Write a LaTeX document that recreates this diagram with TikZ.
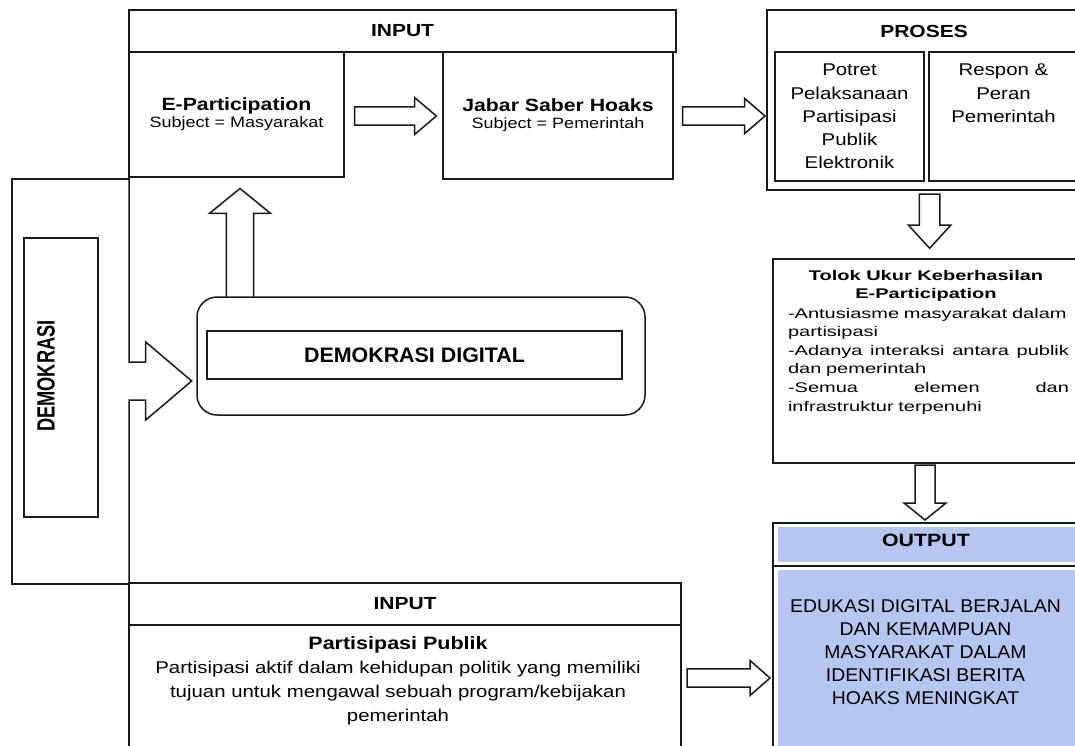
\documentclass[tikz,border=0pt]{standalone}
\usepackage{fontspec}
\setmainfont{Liberation Sans}[FakeStretch=1.2]
\newfontfamily\tolfont{Liberation Sans}[FakeStretch=1.43]
\newfontfamily\outfont{Liberation Sans}[FakeStretch=1.05]
\newfontfamily\ddfont{Liberation Sans}[FakeStretch=1.02]
\newfontfamily\demfont{Liberation Sans}[FakeStretch=0.73]
\usetikzlibrary{calc}
\definecolor{outblue}{RGB}{181,198,240}
\definecolor{ink}{RGB}{25,25,25}
% block arrows: start, end, shaft half width, head half width, head length
\newcommand\rblock[5]{\draw[blk] let \p1=#1, \p2=#2 in (\x1,\y1+#3) -- (\x2-#5,\y1+#3) -- (\x2-#5,\y1+#4) -- (\x2,\y1) -- (\x2-#5,\y1-#4) -- (\x2-#5,\y1-#3) -- (\x1,\y1-#3) -- cycle;}
\newcommand\dblock[5]{\draw[blk] let \p1=#1, \p2=#2 in (\x1-#3,\y1) -- (\x1-#3,\y2+#5) -- (\x1-#4,\y2+#5) -- (\x1,\y2) -- (\x1+#4,\y2+#5) -- (\x1+#3,\y2+#5) -- (\x1+#3,\y1) -- cycle;}
\newcommand\ublock[5]{\draw[blk] let \p1=#1, \p2=#2 in (\x1-#3,\y1) -- (\x1-#3,\y2-#5) -- (\x1-#4,\y2-#5) -- (\x1,\y2) -- (\x1+#4,\y2-#5) -- (\x1+#3,\y2-#5) -- (\x1+#3,\y1) -- cycle;}
\begin{document}
\begin{tikzpicture}[x=1pt,y=-1pt,
  box/.style={draw=ink,line width=1.5pt,inner sep=0pt,outer sep=0pt},
  blk/.style={draw=ink,line width=1.5pt,fill=white,line join=miter},
  lbl/.style={inner sep=0pt,outer sep=0pt,text=black},
  title/.style={font=\fontsize{17.5}{21}\selectfont\bfseries}]
\useasboundingbox (0,0) rectangle (1075,745);
\fill[white] (0,0) rectangle (1075,745);

% ---- top INPUT group
\node[box,title,minimum width=547,minimum height=42] (in1) at (402.5,31) {INPUT};
\node[box,minimum width=215,minimum height=125,align=center,font=\fontsize{15}{17}\selectfont] (ep) at (236.5,114.5)
  {{\fontsize{17.7}{17}\selectfont\bfseries E-Participation}\\Subject = Masyarakat};
\node[box,minimum width=230,minimum height=127,align=center,font=\fontsize{15}{17}\selectfont] (jb) at (558,115.5)
  {{\fontsize{17.7}{17}\selectfont\bfseries Jabar Saber Hoaks}\\Subject = Pemerintah};

% ---- PROSES
\node[box,minimum width=317,minimum height=180] (pr) at (925.5,100) {};
\node[lbl,title] (prt) at (924,31) {PROSES};
\node[box,minimum width=149,minimum height=129] (pt) at (849.5,116.5) {};
\node[box,minimum width=149,minimum height=129] (rp) at (1003.5,116.5) {};
\node[lbl,anchor=north,align=center,font=\fontsize{17}{23.3}\selectfont] (ptt) at (849.5,64)
  {Potret\\Pelaksanaan\\Partisipasi\\Publik\\Elektronik};
\node[lbl,anchor=north,align=center,font=\fontsize{17}{23.3}\selectfont] (rpt) at (1003.5,64)
  {Respon \&\\Peran\\Pemerintah};

% ---- Tolok Ukur
\node[box,minimum width=306,minimum height=204] (tl) at (926,361) {};
\node[lbl,anchor=north,align=center,font=\tolfont\fontsize{14}{18.3}\selectfont\bfseries] (tlt) at (926,270)
  {Tolok Ukur Keberhasilan\\E-Participation};
\node[lbl,anchor=north west,align=left,text width=281,font=\tolfont\fontsize{14}{18.6}\selectfont] (tlb) at (788,308)
  {-Antusiasme masyarakat dalam\\
   partisipasi\\
   -Adanya\hfill interaksi\hfill antara\hfill publik\\
   dan pemerintah\\
   -Semua\hfill elemen\hfill dan\\
   infrastruktur terpenuhi};

% ---- OUTPUT
\node[lbl,fill=outblue,minimum width=302,minimum height=35] (ohd) at (929,544.5) {};
\node[lbl,fill=outblue,minimum width=302,minimum height=180] (obd) at (929,660) {};
\node[box,minimum width=311,minimum height=247] (ob) at (928.5,646.5) {};
\draw[box] (ob.west |- 0,566) -- (ob.east |- 0,566);
\node[lbl,font=\fontsize{17.8}{21}\selectfont\bfseries] (obt) at (926,540) {OUTPUT};
\node[lbl,anchor=north,align=center,font=\outfont\fontsize{18.5}{22.9}\selectfont] (obx) at (925.5,600)
  {EDUKASI DIGITAL BERJALAN\\DAN KEMAMPUAN\\MASYARAKAT DALAM\\IDENTIFIKASI BERITA\\HOAKS MENINGKAT};

% ---- bottom INPUT
\node[box,title,minimum width=552,minimum height=42] (in2) at (405,604) {INPUT};
\node[box,minimum width=552,minimum height=145] (bb) at (405,697.5) {};
\node[lbl,anchor=north,align=center,font=\fontsize{17}{23.8}\selectfont] (bbt) at (398,637)
  {{\fontsize{17.9}{23.8}\selectfont\bfseries Partisipasi Publik}\\
   Partisipasi aktif dalam kehidupan politik yang memiliki\\
   tujuan untuk mengawal sebuah program/kebijakan\\
   pemerintah};

% ---- DEMOKRASI
\node[lbl,minimum width=117,minimum height=405] (dem) at (70.5,381.5) {};
\draw[box] (dem.north east) -- (dem.north west) -- (dem.south west) -- (dem.south east);
\node[box,minimum width=74,minimum height=279] (demi) at (61,377.5) {};
\node[lbl,rotate=90,font=\demfont\fontsize{25}{25}\selectfont\bfseries] (demt) at (46,376) {DEMOKRASI};

% ---- DEMOKRASI DIGITAL
\node[box,rounded corners=20pt,minimum width=448,minimum height=118] (dd) at (421,356) {};
\node[box,minimum width=415,minimum height=48,font=\ddfont\fontsize{21}{21}\selectfont\bfseries] (ddi) at (414.5,355) {DEMOKRASI DIGITAL};

% ---- spine with big arrow into DEMOKRASI DIGITAL
\draw[box,line join=miter] (ep.south west) -- (129,362) -- (145.7,362) -- (145.7,342) -- (191.7,381)
  -- (145.7,420) -- (145.7,400) -- (129,400) -- (bb.south west);

% ---- block arrows
\rblock{($(ep.east)+(10.7,1.5)$)}{($(jb.west)+(-6.7,0)$)}{9.2pt}{18.4pt}{21.6pt}
\rblock{($(jb.east)+(9.6,0.5)$)}{($(pr.west)+(-2,0)$)}{9.2pt}{17.5pt}{20.3pt}
\coordinate (c1) at (929.6,0);
\dblock{($(pr.south -| c1)+(0,4)$)}{($(tl.north -| c1)+(0,-10.7)$)}{10.3pt}{21.3pt}{23.3pt}
\coordinate (c2) at (925,0);
\dblock{($(tl.south -| c2)+(0,2)$)}{($(ob.north -| c2)+(0,-3)$)}{10pt}{21pt}{17pt}
\coordinate (c3) at (0,678);
\rblock{($(bb.east |- c3)+(6,0)$)}{($(ob.west |- c3)+(-3,0)$)}{9.2pt}{17.5pt}{20pt}
\coordinate (c4) at (240,0);
\ublock{(dd.north -| c4)}{($(ep.south -| c4)+(0,11.5)$)}{13.7pt}{30.5pt}{24.8pt}
\end{tikzpicture}
\end{document}
